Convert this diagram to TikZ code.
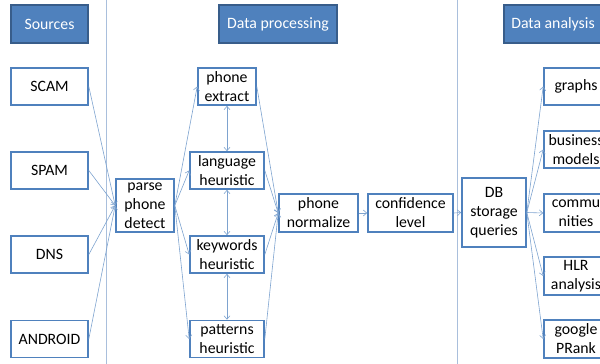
\documentclass[tikz,border=0pt]{standalone}
\usepackage{fontspec}
\setmainfont{Carlito}
\usetikzlibrary{arrows.meta}
\definecolor{hfill}{HTML}{4F81BD}
\definecolor{hdraw}{HTML}{385D8A}
\definecolor{bdraw}{HTML}{4F81BD}
\definecolor{conn}{HTML}{7EA3CF}
\definecolor{sep}{HTML}{A9BFDC}
\tikzset{
  hdr/.style={draw=hdraw, fill=hfill, line width=1.5pt, text=white, minimum height=38pt, inner sep=0pt, font=\fontsize{15.8pt}{19pt}\selectfont},
  bx/.style={draw=bdraw, fill=white, line width=1.6pt, minimum height=37pt, inner sep=0pt, align=center, font=\fontsize{15.8pt}{19pt}\selectfont},
  cn/.style={draw=conn, line width=0.6pt, -{Straight Barb[length=3.5pt,width=6pt]}},
  cnb/.style={draw=conn, line width=0.6pt, {Straight Barb[length=3.5pt,width=6pt]}-{Straight Barb[length=3.5pt,width=6pt]}},
}
\begin{document}
\begin{tikzpicture}[x=1pt,y=-1pt]
\useasboundingbox (0,0) rectangle (600,364);
\draw[sep, line width=0.8pt] (106,0) -- (106,364);
\draw[sep, line width=0.8pt] (457,0) -- (457,364);
% headers
\node[hdr, minimum width=77pt] (hsrc) at (49.5,24) {Sources};
\node[hdr, minimum width=118pt] (hproc) at (278,24) {Data processing};
\node[hdr, minimum width=98pt] (hana) at (553,24) {Data analysis};
% sources
\node[bx, minimum width=77pt] (scam) at (49.5,86.5) {SCAM};
\node[bx, minimum width=77pt] (spam) at (49.5,170.5) {SPAM};
\node[bx, minimum width=77pt] (dns) at (49.5,254.5) {DNS};
\node[bx, minimum width=77pt] (android) at (49.5,339) {ANDROID};
% processing
\node[bx, minimum width=58pt, minimum height=53pt] (parse) at (145,205.5) {parse\\phone\\detect};
\node[bx, minimum width=58pt] (pext) at (227,86.5) {phone\\extract};
\node[bx, minimum width=74pt] (lang) at (227,170.5) {language\\heuristic};
\node[bx, minimum width=74pt] (kw) at (227,254.5) {keywords\\heuristic};
\node[bx, minimum width=74pt] (pat) at (227,339) {patterns\\heuristic};
\node[bx, minimum width=79pt, minimum height=38pt] (norm) at (318.5,213) {phone\\normalize};
\node[bx, minimum width=85pt, minimum height=38pt] (conf) at (410.5,213) {confidence\\level};
\node[bx, minimum width=64pt, minimum height=69pt] (db) at (494,212.5) {DB\\storage\\queries};
% analysis
\node[bx, minimum width=64pt] (graphs) at (576,86.5) {graphs};
\node[bx, minimum width=64pt] (bus) at (576,149.5) {business\\models};
\node[bx, minimum width=64pt, minimum height=38pt] (comm) at (576,213) {commu\\nities};
\node[bx, minimum width=64pt, minimum height=38pt] (hlr) at (576,276) {HLR\\analysis};
\node[bx, minimum width=64pt, minimum height=38pt] (goog) at (576,339) {google\\PRank};
% connectors
\foreach \s in {scam,spam,dns,android} \draw[cn] (\s.east) -- (parse.west);
\foreach \t in {pext,lang,kw,pat} \draw[cn] (parse.east) -- (\t.west);
\draw[cnb] (pext.south) -- (lang.north);
\draw[cnb] (lang.south) -- (kw.north);
\draw[cnb] (kw.south) -- (pat.north);
\foreach \s in {pext,lang,kw,pat} \draw[cn] (\s.east) -- (norm.west);
\draw[cn] (norm.east) -- (conf.west);
\draw[cn] (conf.east) -- (db.west);
\foreach \t in {graphs,bus,comm,hlr,goog} \draw[cn] (db.east) -- (\t.west);
\end{tikzpicture}
\end{document}
